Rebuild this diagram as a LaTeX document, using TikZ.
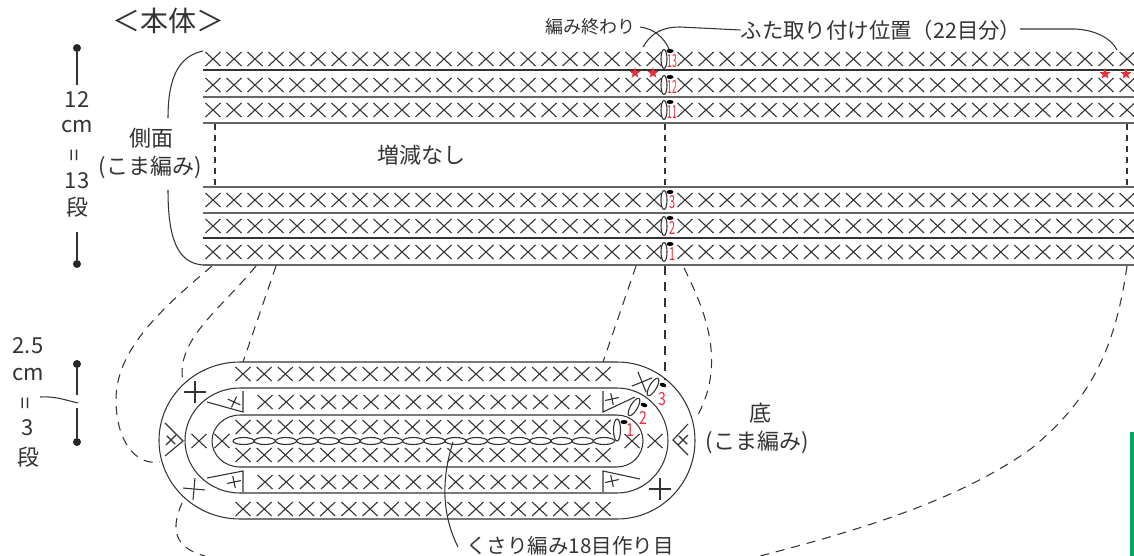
\documentclass[tikz,border=0pt]{standalone}
\usepackage{fontspec}
\setmainfont{Noto Sans CJK JP}
\usetikzlibrary{shapes.geometric}
\definecolor{ink}{HTML}{333333}
\definecolor{band}{HTML}{666666}
\definecolor{redlab}{HTML}{E8303A}
\definecolor{greenbar}{HTML}{00A859}
\tikzset{
  st/.style={draw=ink,line width=1.1pt},
  line/.style={draw=ink,line width=1.05pt},
  thick band/.style={draw=band,line width=1.5pt},
  seam/.style={draw=ink,line width=1.05pt,dash pattern=on 9pt off 7pt},
  lab/.style={text=ink,font=\fontsize{22}{22}\selectfont,inner sep=0pt},
  num/.style={text=redlab,font=\fontsize{18}{18}\selectfont,inner sep=0pt,xscale=.78},
  endpt/.style={fill=black!85,circle,minimum size=8pt,inner sep=0pt},
  redstar/.style={star,star points=5,star point ratio=2.4,fill=redlab,inner sep=0pt,minimum size=11.5pt},
  xst/.pic={\draw[st] (-7.5,-7) -- (7.5,7) (-7.5,7) -- (7.5,-7);},
  bigp/.pic={\draw[st] (-11,0) -- (11,0) (0,-11) -- (0,11);},
  smallp/.pic={\draw[st] (-7,0) -- (7,0) (0,-6) -- (0,6);},
}
\begin{document}
\begin{tikzpicture}[x=1pt,y=-1pt]
  \useasboundingbox (0,0) rectangle (1134,556);
  \fill[greenbar] (1130,432) rectangle (1134,556);

  % side piece
  \foreach \y in {70,238} \draw[line] (203,\y) -- (1134,\y);
  \foreach \y in {97,187,213,265} \draw[thick band,line width=1.2pt] (203,\y) -- (1134,\y);
  \draw[thick band] (203,123) -- (1134,123);
  \foreach \y/\lab/\sx in {59/13/.62,85/12/.62,110/11/.62,200/3/.78,226/2/.78,252/1/.78} {
    \foreach \i in {0,...,21} {
      \pic at ({213+21*\i},\y) {xst};
      \pic at ({685+21.05*\i},\y) {xst};
    }
    \draw[st] (664,\y) ellipse [x radius=3,y radius=9.5];
    \fill[black] (670,\y-8) ellipse [x radius=3.5,y radius=2];
    \node[num,xscale=\sx] (n\lab) at (672.5,\y+2) {\lab};
  }
  \foreach \x in {215,665,1127} \draw[seam,dash pattern=on 6pt off 5pt] (\x,124) -- (\x,186);

  \node[redstar] (s1) at (635,73) {};
  \node[redstar] (s2) at (653,73) {};
  \node[redstar] (s3) at (1105,74) {};
  \node[redstar] (s4) at (1126,74) {};

  \draw[line] (203,51) .. controls (180,56) and (168,75) .. (168,118);
  \draw[line] (168,190) .. controls (168,240) and (178,263) .. (203,265);

  \node[lab,font=\fontsize{28}{28}\selectfont] (title) at (168,21) {＜本体＞};
  \node[lab,font=\fontsize{18}{18}\selectfont] (end) at (590,27) {編み終わり};
  \node[lab,font=\fontsize{21.4}{22}\selectfont] (lid) at (881,30) {ふた取り付け位置（22目分）};
  \node[lab] (same) at (421,155) {増減なし};
  \node[lab] (side1) at (151,138) {側面};
  \node[lab] (side2) at (150,167) {(こま編み)};
  \node[lab] (base1) at (760,413) {底};
  \node[lab] (base2) at (757,442) {(こま編み)};
  \node[lab,font=\fontsize{20.5}{21}\selectfont] (chain) at (570,546) {くさり編み18目作り目};

  \draw[line] (640,27) .. controls (655,29) and (664,38) .. (669,49);
  \draw[line] (lid.west) -- (680,27) .. controls (660,27) and (650,35) .. (643,47);
  \draw[line] (1020,29) -- (1075,29) .. controls (1095,30) and (1111,38) .. (1117,50);

  % scale bars
  \node[endpt] (a1) at (77,48) {};
  \node[endpt] (a2) at (77,264) {};
  \node[lab] (h1) at (77,100) {12};
  \node[lab] (h2) at (77,127) {cm};
  \node[lab,rotate=90] (h3) at (77,155) {=};
  \node[lab] (h4) at (77,181) {13};
  \node[lab] (h5) at (77,207) {段};
  \draw[line,line width=1.2pt] (a1) -- (77,85);
  \draw[line,line width=1.2pt] (77,232) -- (a2);

  \node[endpt] (b1) at (77,364) {};
  \node[endpt] (b2) at (77,442) {};
  \node[lab] (k1) at (28,346) {2.5};
  \node[lab] (k2) at (28,375) {cm};
  \node[lab,rotate=90] (k3) at (28,403) {=};
  \node[lab] (k4) at (28,428) {3};
  \node[lab] (k5) at (28,457) {段};
  \draw[line,line width=1.2pt] (b1) -- (77,395);
  \draw[line,line width=1.2pt] (77,408) -- (b2);
  \draw[line] (40,397) .. controls (55,396) and (65,400) .. (78,403);

  % base piece
  \foreach \t/\b/\l/\r in {362/519/81/78,388/493/55/51,415/467/28/26} {
    \draw[line] (240,\t) -- (617,\t) arc[start angle=-90,end angle=90,x radius=\r,y radius={(\b-\t)/2}]
      -- (240,\b) arc[start angle=90,end angle=270,x radius=\l,y radius={(\b-\t)/2}] -- cycle;
  }
  \foreach \y in {374,427,455,509}
    \foreach \i in {0,...,17} \pic at ({243+21.18*\i},\y) {xst};
  \foreach \y in {402,482}
    \foreach \i in {0,...,15} \pic at ({265+21.2*\i},\y) {xst};
  \foreach \i in {0,...,17} \draw[st] ({243.6+21.2*\i},441) ellipse [x radius=10.6,y radius=3.5];

  \foreach \x in {199,222,632,655} \pic at (\x,441) {xst};
  \draw[st] (207,402) -- (243,412) -- (243,391);
  \draw[st] (207,478) -- (243,471) -- (243,492);
  \draw[st] (635,397) -- (603,412) -- (603,391);
  \draw[st] (640,479) -- (603,471) -- (603,492);
  \pic[rotate=-25] at (234,402) {smallp};
  \pic[rotate=12] at (234,482) {smallp};
  \pic[rotate=12] at (612,399) {smallp};
  \pic[rotate=12] at (612,481) {smallp};
  \draw[st] (165,423) -- (183,441) -- (165,456);
  \draw[st] (688,424) -- (673,440) -- (688,455);
  \pic[rotate=45] at (171,440) {smallp};
  \pic[rotate=45] at (683,440) {smallp};
  \pic at (195,392) {bigp};
  \pic[rotate=-5] at (194,489) {bigp};
  \pic at (660,489) {bigp};
  \pic[rotate=22] at (642,382) {bigp};

  \draw[st] (617,430) ellipse [x radius=3.5,y radius=11];
  \draw[st,rotate around={-30:(634,407)}] (634,407) ellipse [x radius=3.5,y radius=10];
  \draw[st,rotate around={-30:(653,387)}] (653,387) ellipse [x radius=3.5,y radius=10];
  \fill[black] (624,422) ellipse [x radius=3.5,y radius=2];
  \fill[black,rotate around={-20:(644,405)}] (644,405) ellipse [x radius=3.5,y radius=2];
  \fill[black,rotate around={-20:(663,385)}] (663,385) ellipse [x radius=3.5,y radius=2];
  \node[num] (r1) at (630,430) {1};
  \node[num] (r2) at (643,418) {2};
  \node[num] (r3) at (662,399) {3};

  % seams between the pieces
  \coordinate (u1) at (212,266);
  \coordinate (u2) at (256,266);
  \coordinate (u3) at (276,266);
  \coordinate (u4) at (636,266);
  \coordinate (u5) at (665,266);
  \coordinate (u6) at (684,268);
  \coordinate (u7) at (1127,266);
  \coordinate (v1) at (160,462);
  \coordinate (v2) at (183,382);
  \coordinate (v3) at (243,362);
  \coordinate (v4) at (603,362);
  \coordinate (v5) at (665,380);
  \coordinate (v6) at (695,420);
  \coordinate (v7) at (760,556);
  \draw[seam] (u1) .. controls (160,310) and (116,350) .. (116,400) .. controls (116,440) and (135,466) .. (v1);
  \draw[seam] (u2) .. controls (220,310) and (175,340) .. (v2);
  \draw[seam] (u3) -- (v3);
  \draw[seam] (u4) -- (v4);
  \draw[seam] (u5) -- (v5);
  \draw[seam] (u6) .. controls (705,310) and (728,365) .. (v6);
  \draw[seam] (u7) .. controls (1115,350) and (1090,400) .. (1032,448) .. controls (960,500) and (860,530) .. (v7);
  \draw[seam] (182,503) .. controls (170,530) and (175,548) .. (205,556);

  \coordinate (c1) at (453,442);
  \draw[line] (c1) .. controls (441,480) and (442,515) .. (458,547);
\end{tikzpicture}
\end{document}
